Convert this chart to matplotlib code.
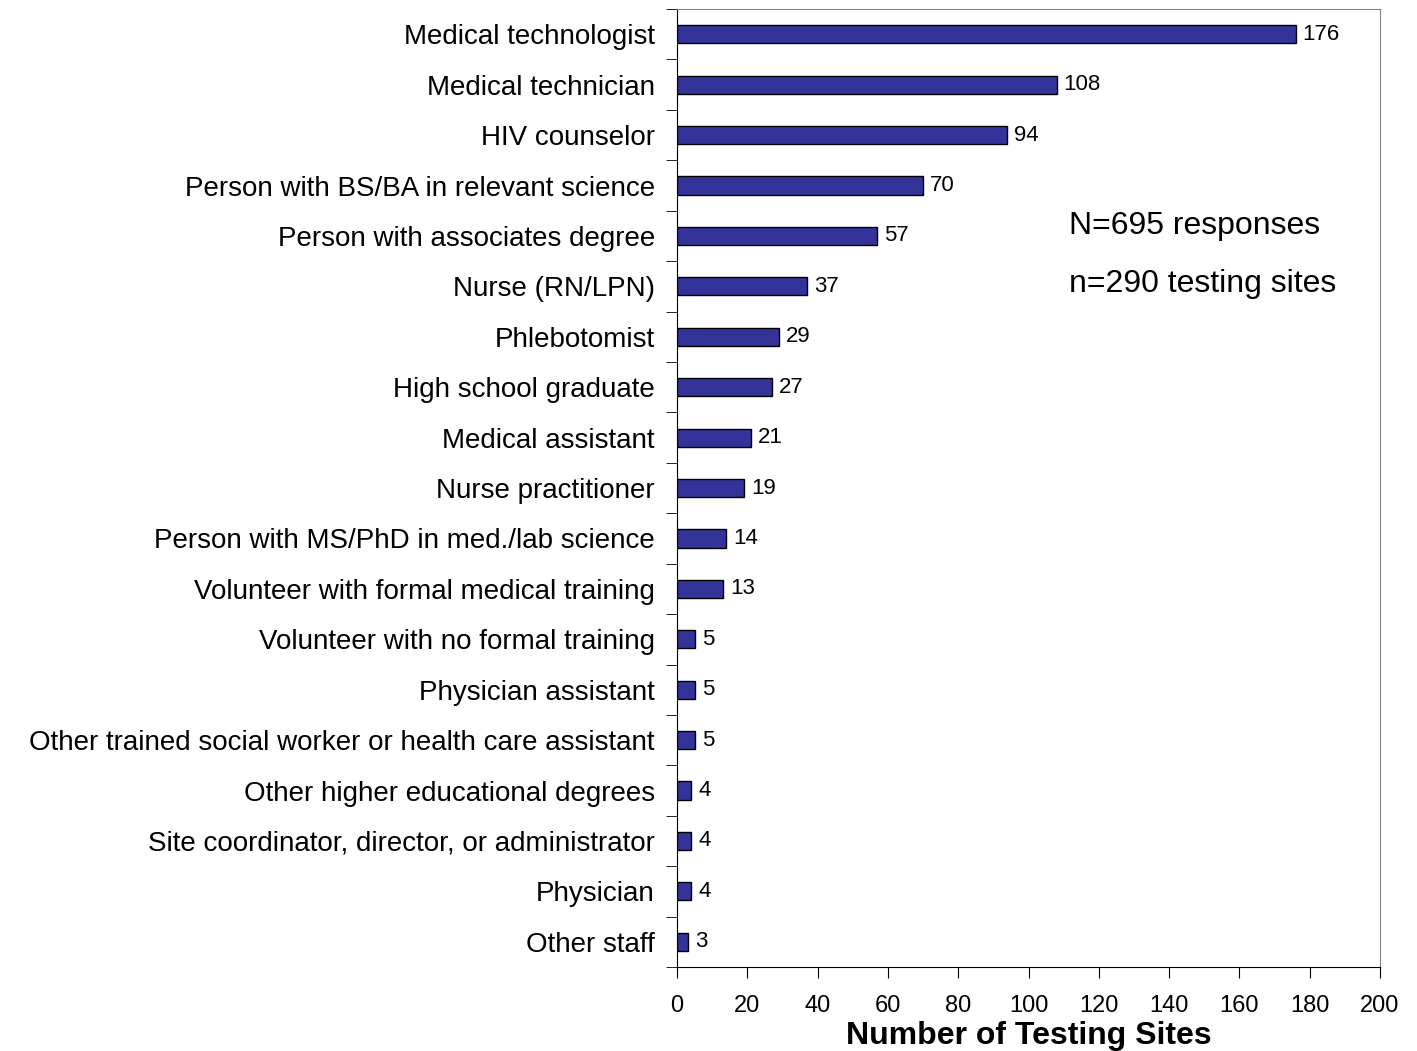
import numpy as np
import matplotlib.pyplot as plt

categories = ['Medical technologist', 'Medical technician', 'HIV counselor',
              'Person with BS/BA in relevant science', 'Person with associates degree',
              'Nurse (RN/LPN)', 'Phlebotomist', 'High school graduate', 'Medical assistant',
              'Nurse practitioner', 'Person with MS/PhD in med./lab science',
              'Volunteer with formal medical training', 'Volunteer with no formal training',
              'Physician assistant', 'Other trained social worker or health care assistant',
              'Other higher educational degrees', 'Site coordinator, director, or administrator',
              'Physician', 'Other staff']
counts = [176, 108, 94, 70, 57, 37, 29, 27, 21, 19, 14, 13, 5, 5, 5, 4, 4, 4, 3]
xticks = list(range(0, 201, 20))

plt.rcParams['font.family'] = ['Liberation Sans', 'DejaVu Sans']

fig = plt.figure(figsize=(14.17, 10.51), dpi=100)
ax = fig.add_axes([0.4778, 0.0799, 0.4961, 0.9115])

y = np.arange(len(categories))
ax.barh(y, counts, height=0.36, color='#333399', edgecolor='black', linewidth=1)
for yi, v in zip(y, counts):
    ax.text(v + 2, yi, str(v), va='center', ha='left', fontsize=16)

ax.set_ylim(len(categories) - 0.5, -0.5)
ax.set_xlim(0, 200)
ax.set_xticks(xticks)
ax.set_yticks(y)
ax.set_yticklabels(categories, fontsize=20)
ax.tick_params(axis='y', which='major', length=0, pad=16)
ax.set_yticks(np.arange(len(categories) + 1) - 0.5, minor=True)
ax.tick_params(axis='y', which='minor', length=8, direction='out')
ax.tick_params(axis='x', labelsize=17, length=8, direction='out', pad=12)

for s in ['top', 'right']:
    ax.spines[s].set_color('#808080')

ax.set_xlabel('Number of Testing Sites', fontsize=23, fontweight='bold', labelpad=3)

ax.text(0.557, 0.765, 'N=695 responses', transform=ax.transAxes, fontsize=23)
ax.text(0.557, 0.705, 'n=290 testing sites', transform=ax.transAxes, fontsize=23)

fig.savefig('out.png', dpi=100)
